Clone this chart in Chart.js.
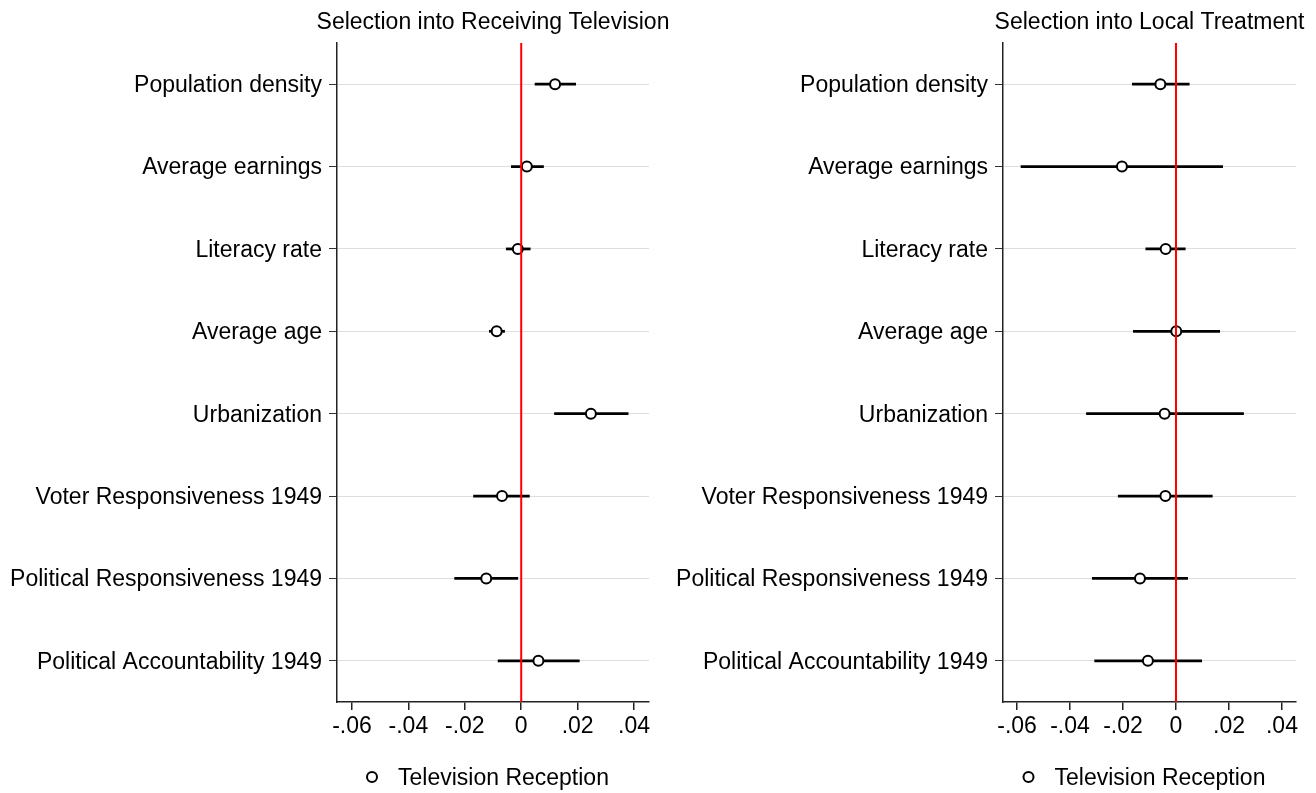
<!DOCTYPE html>
<html>
<head>
<meta charset="utf-8">
<script src="https://cdn.jsdelivr.net/npm/chart.js@4.4.0/dist/chart.umd.min.js"></script>
<style>
  html, body { margin: 0; padding: 0; background: #fff; }
  #wrap { position: relative; width: 1316px; height: 793px; overflow: hidden; }
  canvas { position: absolute; top: 0; }
</style>
</head>
<body>
<div id="wrap">
  <canvas id="graficoTV" width="680" height="793" style="left:0px"></canvas>
  <canvas id="graficoLocal" width="656" height="793" style="left:660px"></canvas>
</div>
<script>
const variaveis = [
  "Population density",
  "Average earnings",
  "Literacy rate",
  "Average age",
  "Urbanization",
  "Voter Responsiveness 1949",
  "Political Responsiveness 1949",
  "Political Accountability 1949"
];
const nomeSerie = "Television Reception";
const xTicks = [-0.06, -0.04, -0.02, 0, 0.02, 0.04];
const xTickLabels = ["-.06", "-.04", "-.02", "0", ".02", ".04"];

// painel esquerdo: Selection into Receiving Television
const coefTV  = [0.0120, 0.0020, -0.0012, -0.0087, 0.0247, -0.0068, -0.0124, 0.0061];
const baixoTV = [0.0049, -0.0035, -0.0053, -0.0113, 0.0118, -0.0169, -0.0236, -0.0082];
const altoTV  = [0.0193, 0.0079, 0.0032, -0.0059, 0.0379, 0.0029, -0.0012, 0.0206];

// painel direito: Selection into Local Treatment
const coefLocal  = [-0.0059, -0.0204, -0.0039, 0.0001, -0.0043, -0.0040, -0.0136, -0.0106];
const baixoLocal = [-0.0165, -0.0585, -0.0114, -0.0161, -0.0338, -0.0218, -0.0316, -0.0307];
const altoLocal  = [0.0050, 0.0176, 0.0035, 0.0165, 0.0255, 0.0137, 0.0044, 0.0097];

const FONTE = "'Liberation Sans', Arial, Helvetica, sans-serif";
const TAM = 23;

const linhaZero = {
  id: "linhaZero",
  afterDatasetsDraw(chart) {
    const { ctx, chartArea: a, scales: { x } } = chart;
    const px = x.getPixelForValue(0);
    ctx.save();
    ctx.strokeStyle = "#ff0000";
    ctx.lineWidth = 2;
    ctx.beginPath();
    ctx.moveTo(px, a.top);
    ctx.lineTo(px, a.bottom);
    ctx.stroke();
    ctx.restore();
  }
};

const tituloLegenda = {
  id: "tituloLegenda",
  afterDraw(chart, args, opts) {
    const { ctx, chartArea: a } = chart;
    const cx = (a.left + a.right) / 2;
    ctx.save();
    ctx.fillStyle = "#000";
    ctx.font = TAM + "px " + FONTE;
    ctx.textAlign = "center";
    ctx.textBaseline = "alphabetic";
    ctx.fillText(opts.titulo, cx, 29);

    ctx.beginPath();
    ctx.arc(cx - 121, 777, 5, 0, Math.PI * 2);
    ctx.lineWidth = 2;
    ctx.strokeStyle = "#000";
    ctx.stroke();
    ctx.textAlign = "left";
    ctx.fillText(chart.data.datasets[0].label, cx - 95, 785);
    ctx.restore();
  }
};

function criarGrafico(id, titulo, coef, baixo, alto, larguraY, padDireita) {
  const ctx = document.getElementById(id).getContext("2d");
  return new Chart(ctx, {
    type: "bar",
    data: {
      labels: variaveis,
      datasets: [
        {
          type: "line",
          label: nomeSerie,
          data: coef.map((c, i) => ({ x: c, y: variaveis[i] })),
          showLine: false,
          pointStyle: "circle",
          pointRadius: 5,
          pointBorderWidth: 2,
          pointBackgroundColor: "#fff",
          pointBorderColor: "#000",
          order: 0
        },
        {
          type: "bar",
          label: "CI",
          data: baixo.map((b, i) => [b, alto[i]]),
          backgroundColor: "#000",
          borderWidth: 0,
          barThickness: 2.1,
          order: 1
        }
      ]
    },
    options: {
      indexAxis: "y",
      responsive: false,
      animation: false,
      layout: { padding: { left: 0, right: padDireita, top: 43, bottom: 41 } },
      plugins: {
        legend: { display: false },
        title: { display: false },
        tooltip: { enabled: false },
        tituloLegenda: { titulo: titulo }
      },
      scales: {
        x: {
          type: "linear",
          min: -0.0653,
          max: 0.0453,
          afterBuildTicks: scale => { scale.ticks = xTicks.map(v => ({ value: v })); },
          grid: { drawOnChartArea: false, tickLength: 8, tickColor: "#222", lineWidth: 1.5 },
          border: { color: "#222", width: 1.5 },
          ticks: {
            callback: (v, i) => xTickLabels[i],
            color: "#000",
            font: { family: FONTE, size: TAM },
            padding: 3,
            maxRotation: 0,
            autoSkip: false
          },
          afterFit: scale => { scale.height = 50; }
        },
        y: {
          type: "category",
          offset: true,
          grid: { offset: false, color: "#dedede", lineWidth: 1, tickLength: 8, tickColor: "#333" },
          border: { color: "#222", width: 1.5 },
          ticks: {
            color: "#000",
            font: { family: FONTE, size: TAM },
            padding: 7,
            labelOffset: 1.5,
            autoSkip: false
          },
          afterFit: scale => { scale.width = larguraY; }
        }
      }
    },
    plugins: [linhaZero, tituloLegenda]
  });
}

criarGrafico("graficoTV", "Selection into Receiving Television", coefTV, baixoTV, altoTV, 337, 31);
criarGrafico("graficoLocal", "Selection into Local Treatment", coefLocal, baixoLocal, altoLocal, 343, 20);
</script>
</body>
</html>
